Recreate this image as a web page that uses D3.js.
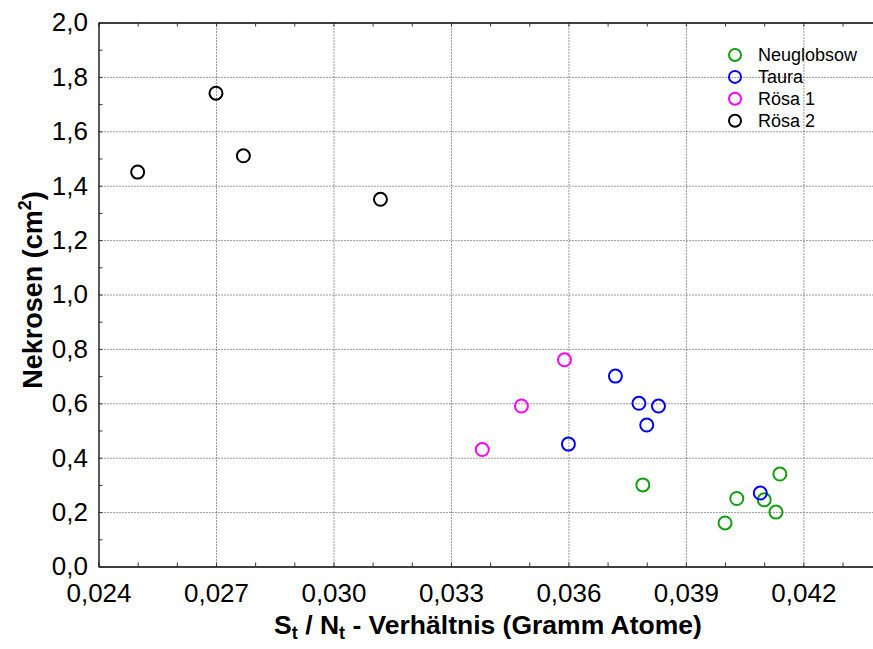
<!DOCTYPE html>
<html lang="de">
<head>
	<meta charset="utf-8">
	<title>Nekrosen vs St/Nt</title>
	<script src="https://d3js.org/d3.v7.min.js" charset="utf-8"></script>
	<style>
	body { margin: 0; background: #fff; }
	text { font-family: "Liberation Sans", Arial, sans-serif; fill: #000; }
	.grid line { stroke: #9a9a9a; stroke-width: 1; stroke-dasharray: 1,2; }
	.grid path { display: none; }
	.tick line { stroke: #333; }
	</style>
</head>
<body>
	<script>
	// series names and colours
	var seriesNames = ["Neuglobsow", "Taura", "Rösa 1", "Rösa 2"];
	var seriesColors = ["#12a012", "#0000ff", "#ff00ff", "#000000"];

	// St/Nt ratio (x) and necrosis area in cm2 (y)
	var neuglobsowX = [0.0379, 0.0403, 0.0410, 0.0414, 0.0413, 0.0400];
	var neuglobsowY = [0.30, 0.25, 0.245, 0.34, 0.20, 0.16];
	var tauraX = [0.0372, 0.0378, 0.0383, 0.0380, 0.0360, 0.0409];
	var tauraY = [0.70, 0.60, 0.59, 0.52, 0.45, 0.27];
	var roesa1X = [0.0359, 0.0348, 0.0338];
	var roesa1Y = [0.76, 0.59, 0.43];
	var roesa2X = [0.0250, 0.0270, 0.0277, 0.0312];
	var roesa2Y = [1.45, 1.74, 1.51, 1.35];

	// tick values
	var xTicks = [0.024, 0.027, 0.030, 0.033, 0.036, 0.039, 0.042];
	var yTicks = [0.0, 0.2, 0.4, 0.6, 0.8, 1.0, 1.2, 1.4, 1.6, 1.8, 2.0];

	var allX = [neuglobsowX, tauraX, roesa1X, roesa2X];
	var allY = [neuglobsowY, tauraY, roesa1Y, roesa2Y];

	var w = 873, h = 649;
	var plotLeft = 98.5, plotTop = 22.5, plotBottom = 566.5;

	var de = d3.formatLocale({ decimal: ",", thousands: ".", grouping: [3], currency: ["", "€"] });

	// x axis runs past the right edge of the picture
	var xScale = d3.scaleLinear().domain([0.024, 0.044]).range([plotLeft, plotLeft + 0.020 * 39160]);
	var yScale = d3.scaleLinear().domain([0, 2]).range([plotBottom, plotTop]);

	var svg = d3.select("body").append("svg")
		.attr("width", w)
		.attr("height", h);

	// dotted grid
	svg.append("g")
		.attr("class", "grid")
		.attr("transform", "translate(0," + plotBottom + ")")
		.call(d3.axisBottom(xScale).tickValues(xTicks.slice(1)).tickSize(-(plotBottom - plotTop)).tickFormat(""));
	svg.append("g")
		.attr("class", "grid")
		.attr("transform", "translate(" + plotLeft + ",0)")
		.call(d3.axisLeft(yScale).tickValues(yTicks.slice(1, -1)).tickSize(-(xScale.range()[1] - plotLeft)).tickFormat(""));

	// minor ticks (inside)
	var xMinor = d3.range(24, 45).map(function(d) { return d / 1000; });
	var yMinor = d3.range(0, 21).map(function(d) { return d / 10; });

	var bottomAxis = svg.append("g")
		.attr("transform", "translate(0," + plotBottom + ")")
		.call(d3.axisBottom(xScale).tickValues(xMinor).tickSizeInner(-4).tickSizeOuter(0).tickFormat(""));
	var topAxis = svg.append("g")
		.attr("transform", "translate(0," + plotTop + ")")
		.call(d3.axisTop(xScale).tickValues(xMinor).tickSizeInner(-4).tickSizeOuter(0).tickFormat(""));
	var leftAxis = svg.append("g")
		.attr("transform", "translate(" + plotLeft + ",0)")
		.call(d3.axisLeft(yScale).tickValues(yMinor).tickSizeInner(-4).tickSizeOuter(0).tickFormat(""));
	[bottomAxis, topAxis, leftAxis].forEach(function(a) {
		a.select(".domain").attr("stroke", "#000").attr("stroke-width", 1.3);
	});

	// tick labels
	var xLabels = svg.append("g")
		.attr("transform", "translate(0," + plotBottom + ")")
		.call(d3.axisBottom(xScale).tickValues(xTicks).tickSize(0).tickPadding(17).tickFormat(de.format(".3f")));
	xLabels.select(".domain").remove();
	xLabels.selectAll("text").attr("font-size", 26).attr("font-family", "Liberation Sans, Arial, sans-serif");

	var yLabels = svg.append("g")
		.attr("transform", "translate(" + plotLeft + ",0)")
		.call(d3.axisLeft(yScale).tickValues(yTicks).tickSize(0).tickPadding(10.5).tickFormat(de.format(".1f")));
	yLabels.select(".domain").remove();
	yLabels.selectAll("text").attr("font-size", 26).attr("font-family", "Liberation Sans, Arial, sans-serif");

	// points, Neuglobsow first so Taura sits on top
	allX.forEach(function(xs, s) {
		svg.append("g").selectAll("circle")
			.data(xs)
			.enter()
			.append("circle")
			.attr("cx", function(d) { return xScale(d); })
			.attr("cy", function(d, i) { return yScale(allY[s][i]); })
			.attr("r", 6.5)
			.attr("fill", "none")
			.attr("stroke", seriesColors[s])
			.attr("stroke-width", 2);
	});

	// legend
	var legend = svg.append("g").attr("transform", "translate(735,55)");
	seriesNames.forEach(function(name, i) {
		legend.append("circle")
			.attr("cx", 0)
			.attr("cy", i * 21.9)
			.attr("r", 6)
			.attr("fill", "none")
			.attr("stroke", seriesColors[i])
			.attr("stroke-width", 2);
		legend.append("text")
			.attr("x", 23)
			.attr("y", i * 21.9)
			.attr("dy", "0.36em")
			.attr("font-size", 18)
			.text(name);
	});

	// axis titles
	var xTitle = svg.append("text")
		.attr("x", 488)
		.attr("y", 634)
		.attr("text-anchor", "middle")
		.attr("font-size", 26.5)
		.attr("font-weight", "bold");
	xTitle.append("tspan").text("S");
	xTitle.append("tspan").attr("font-size", 18).attr("dy", 5).text("t");
	xTitle.append("tspan").attr("dy", -5).text(" / N");
	xTitle.append("tspan").attr("font-size", 18).attr("dy", 5).text("t");
	xTitle.append("tspan").attr("dy", -5).text(" - Verhältnis (Gramm Atome)");

	var yTitle = svg.append("text")
		.attr("text-anchor", "middle")
		.attr("font-size", 27)
		.attr("font-weight", "bold")
		.attr("transform", "translate(42,290) rotate(-90)");
	yTitle.append("tspan").text("Nekrosen (cm");
	yTitle.append("tspan").attr("font-size", 18).attr("dy", -11).text("2");
	yTitle.append("tspan").attr("dy", 11).text(")");
	</script>
</body>
</html>
